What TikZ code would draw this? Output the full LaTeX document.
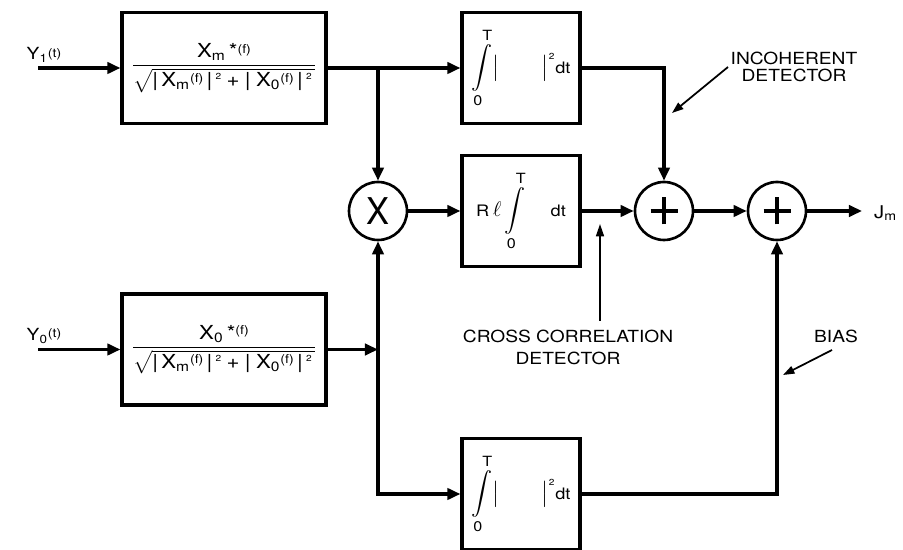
\documentclass[tikz,border=0pt]{standalone}
\usepackage{amsmath}
\usepackage{fontspec}
\setmainfont{TeX Gyre Heros}[FakeStretch=1.15]
\usepackage{tikz}
\usetikzlibrary{arrows.meta,positioning,calc}

\newcommand{\sq}[1]{X\textsubscript{#1}\raisebox{.45ex}{\scriptsize(f)}}
\newcommand{\normden}{$\sqrt{\text{|\,\sq{m}\,|\,\raisebox{.7ex}{\tiny 2}\;+\;|\;\sq{0}\,|\,\raisebox{.7ex}{\tiny 2}\,}}$}
\newcommand{\intsq}{$\displaystyle\int\limits_{\mathrm{0}}^{\mathrm{T}}\!\big|\qquad\big|^{\raisebox{.2ex}{\tiny 2}}\text{\small dt}$}

\begin{document}
\begin{tikzpicture}[x=0.02cm, y=-0.02cm, font=\fontsize{10}{12}\selectfont,
    block/.style={rectangle, draw, line width=1.8pt, minimum width=#1, minimum height=2.22cm, inner sep=1pt},
    summer/.style={circle, draw, line width=1.5pt, minimum size=1.16cm, inner sep=0pt},
    adder/.style={summer, path picture={
        \draw[line width=1.8pt] ([xshift=-0.27cm]path picture bounding box.center) -- ([xshift=0.27cm]path picture bounding box.center)
        ([yshift=-0.27cm]path picture bounding box.center) -- ([yshift=0.27cm]path picture bounding box.center);}},
    flow/.style={line width=1.8pt, -{Triangle[length=7.5pt,width=6.5pt]}},
    note/.style={line width=1pt, -{Triangle[length=6.5pt,width=4.5pt]}},
    notetext/.style={align=center, font=\fontsize{9.5}{12.5}\selectfont}]

\useasboundingbox (0,0) rectangle (903,550);

\node[block=4.08cm, font=\fontsize{11}{13}\selectfont] (filt1) at (224,68)
    {$\dfrac{\text{X\textsubscript{m}\,*\raisebox{.45ex}{\scriptsize(f)}}}{\text{\normden}}$};
\node[block=4.08cm, font=\fontsize{11}{13}\selectfont] (filt0) at (224,349.5)
    {$\dfrac{\text{X\textsubscript{0}\,*\raisebox{.45ex}{\scriptsize(f)}}}{\text{\normden}}$};

\node[block=2.36cm, font=\fontsize{12}{14}\selectfont] (intA) at (521,68) {\intsq};
\node[block=2.36cm, font=\fontsize{12}{14}\selectfont] (corr) at (521,211)
    {\text{\small R}\,$\ell\displaystyle\int\limits_{\mathrm{0}}^{\mathrm{T}}\quad\text{\small dt}$};
\node[block=2.36cm, font=\fontsize{12}{14}\selectfont] (intB) at (521,494) {\intsq};

\node[summer, font=\fontsize{20}{20}\selectfont] (mult) at (378,211) {\scalebox{0.85}[1.05]{X}};
\node[adder] (sum1) at (664,211) {};
\node[adder] (sum2) at (777,211) {};

\coordinate (in1) at (38,68);
\coordinate (in0) at (38,349.5);
\coordinate (jt) at (378,68);
\coordinate (jb) at (378,349.5);
\coordinate (out) at (862,211);

\node[font=\fontsize{9.5}{10}\selectfont] (y1) at (44,55) {Y\textsubscript{1}\raisebox{.3ex}{\scriptsize(t)}};
\node[font=\fontsize{9.5}{10}\selectfont] (y0) at (44,336) {Y\textsubscript{0}\raisebox{.3ex}{\scriptsize(t)}};
\node[anchor=west, font=\fontsize{10}{10}\selectfont] (jm) at (868,213) {J\textsubscript{m}};

\draw[flow] (in1) -- (filt1);
\draw[flow] (in0) -- (filt0);
\draw[flow] (filt1) -- (intA);
\draw[flow] (jt) -- (mult);
\draw[flow] (filt0) -- (jb);
\draw[flow] (jb) -- (mult);
\draw[flow] (jb) |- (intB);
\draw[flow] (mult) -- (corr);
\draw[flow] (corr) -- (sum1);
\draw[flow] (intA) -| (sum1);
\draw[flow] (sum1) -- (sum2);
\draw[flow] (intB) -| (sum2);
\draw[flow] (sum2) -- (out);

\node[notetext, font=\fontsize{9.5}{9.2}\selectfont] (lblinc) at (794,67) {INCOHERENT\\DETECTOR};
\node[notetext] (lblcc) at (568,347) {CROSS CORRELATION\\DETECTOR};
\node[notetext] (lblbias) at (836,336) {BIAS};

\coordinate (incA) at (728,67);
\coordinate (incB) at (672,113);
\coordinate (ccA) at (600,321);
\coordinate (ccB) at (600,224);
\coordinate (biasA) at (832,350);
\coordinate (biasB) at (783,375);

\draw[note] (incA) -- (incB);
\draw[line width=1pt, -{Triangle[length=7pt,width=4.5pt]}] (ccA) -- (ccB);
\draw[note] (biasA) -- (biasB);
\end{tikzpicture}
\end{document}
